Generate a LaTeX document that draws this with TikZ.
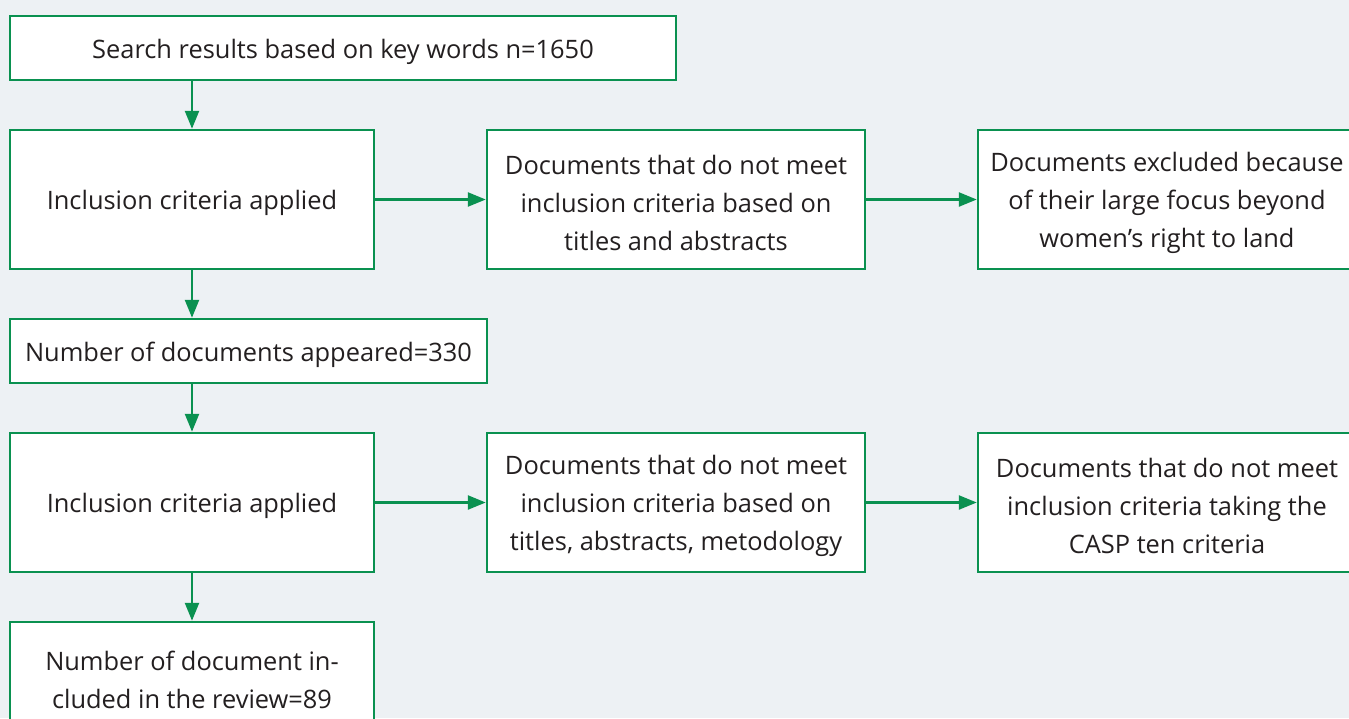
\documentclass[tikz,border=0pt]{standalone}
\usepackage{fontspec}
\setmainfont{Open Sans}
\usetikzlibrary{arrows.meta}
\definecolor{bg}{HTML}{EDF1F4}
\definecolor{grn}{HTML}{0A9150}
\definecolor{txt}{HTML}{231F20}
\tikzset{
  box/.style={draw=grn, line width=2.5pt, fill=white, inner sep=0pt},
  lbl/.style={inner sep=0pt, align=center, text=txt, font=\fontsize{25.4}{38}\selectfont},
  conn/.style={draw=grn, line width=2.5pt, -{Triangle[length=18pt,width=14pt]}}
}
\begin{document}
\begin{tikzpicture}[x=1pt,y=-1pt]
\fill[bg] (0,0) rectangle (1349,718);
\useasboundingbox (0,0) rectangle (1349,718);
\begin{scope}
\clip (0,0) rectangle (1349,718);
\node[box, minimum width=666pt, minimum height=64pt] (b1) at (343,48) {};
\node[box, minimum width=364pt, minimum height=139pt] (b2) at (192,199.5) {};
\node[box, minimum width=378pt, minimum height=139pt] (b3) at (676,199.5) {};
\node[box, minimum width=378pt, minimum height=139pt] (b4) at (1167,199.5) {};
\node[box, minimum width=477pt, minimum height=64pt] (b5) at (248.5,351) {};
\node[box, minimum width=364pt, minimum height=139pt] (b6) at (192,502.5) {};
\node[box, minimum width=378pt, minimum height=139pt] (b7) at (676,502.5) {};
\node[box, minimum width=378pt, minimum height=139pt] (b8) at (1167,502.5) {};
\node[box, minimum width=364pt, minimum height=108pt] (b9) at (192,676) {};
\end{scope}
\node[lbl] (t1) at ([yshift=-3.5pt]b1.center) {Search results based on key words n=1650};
\node[lbl] (t2) at ([yshift=-3.5pt]b2.center) {Inclusion criteria applied};
\node[lbl] (t3) at ([yshift=-3.5pt]b3.center) {Documents that do not meet\\inclusion criteria based on\\titles and abstracts};
\node[lbl] (t4) at ([yshift=-3.5pt]b4.center) {Documents excluded because\\of their large focus beyond\\women’s right to land};
\node[lbl] (t5) at ([yshift=-3.5pt]b5.center) {Number of documents appeared=330};
\node[lbl] (t6) at ([yshift=-3.5pt]b6.center) {Inclusion criteria applied};
\node[lbl] (t7) at ([yshift=-3.5pt]b7.center) {Documents that do not meet\\inclusion criteria based on\\titles, abstracts, metodology};
\node[lbl] (t8) at ([yshift=-3.5pt]b8.center) {Documents that do not meet\\inclusion criteria taking the\\CASP ten criteria};
\node[lbl] (t9) at ([yshift=-3.5pt]b9.center) {Number of document in-\\cluded in the review=89};
\draw[conn] (b1.south -| b2) -- (b2.north);
\draw[conn] (b2.east) -- (b3.west);
\draw[conn] (b3.east) -- (b4.west);
\draw[conn] (b2.south) -- (b5.north -| b2);
\draw[conn] (b5.south -| b6) -- (b6.north);
\draw[conn] (b6.east) -- (b7.west);
\draw[conn] (b7.east) -- (b8.west);
\draw[conn] (b6.south) -- (b9.north);
\end{tikzpicture}
\end{document}
